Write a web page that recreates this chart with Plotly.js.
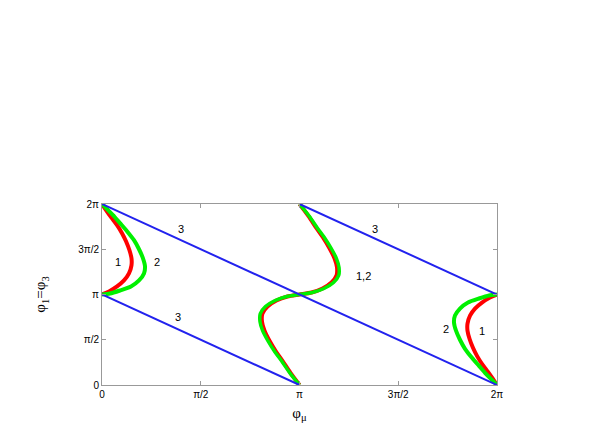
<!DOCTYPE html>
<html>
<head>
<meta charset="utf-8">
<script src="https://cdn.plot.ly/plotly-3.0.1.min.js"></script>
<style>
  html, body {margin: 0; padding: 0; background: #fff;}
  #chart {width: 599px; height: 436px;}
</style>
</head>
<body>
<div id="chart"></div>
<script>
const PI = Math.PI;

// tick values / labels
const TICK_VALS = [0, PI / 2, PI, 3 * PI / 2, 2 * PI];
const TICK_TEXT = ['0', 'π/2', 'π', '3π/2', '2π'];

// curve 1 (red), in radians
const red_left_x = [0, 0.064, 0.143, 0.239, 0.318, 0.382, 0.437, 0.469, 0.469,
                    0.429, 0.350, 0.239, 0.111, 0];
const red_left_y = [6.283, 6.073, 5.829, 5.550, 5.271, 4.991, 4.677, 4.398, 4.154,
                    3.874, 3.630, 3.421, 3.246, 3.1416];
const red_mid_x = [3.1416, 3.285, 3.412, 3.523, 3.619, 3.698, 3.738, 3.731, 3.651,
                   3.508, 3.333, 3.1416, 2.950, 2.775, 2.632, 2.552, 2.545, 2.585,
                   2.664, 2.760, 2.871, 2.998, 3.1416];
const red_mid_y = [6.283, 5.864, 5.445, 5.096, 4.747, 4.398, 4.084, 3.805, 3.560,
                   3.351, 3.211, 3.1416, 3.072, 2.932, 2.723, 2.478, 2.199, 1.885,
                   1.536, 1.187, 0.838, 0.419, 0];
const red_right_x = [6.283, 6.219, 6.140, 6.044, 5.965, 5.901, 5.846, 5.814, 5.814,
                     5.854, 5.933, 6.044, 6.172, 6.283];
const red_right_y = [0, 0.210, 0.454, 0.733, 1.012, 1.292, 1.606, 1.885, 2.129,
                     2.409, 2.653, 2.862, 3.037, 3.1416];

// curve 2 (green)
const green_left_x = [0, 0.080, 0.175, 0.286, 0.398, 0.509, 0.589, 0.652, 0.684,
                      0.668, 0.589, 0.461, 0.286, 0.127, 0];
const green_left_y = [6.283, 6.108, 5.899, 5.620, 5.340, 5.026, 4.712, 4.398, 4.119,
                      3.874, 3.630, 3.421, 3.281, 3.176, 3.1416];
const green_mid_x = [3.1416, 3.295, 3.428, 3.545, 3.645, 3.728, 3.770, 3.765, 3.683,
                     3.530, 3.345, 3.1416, 2.938, 2.753, 2.600, 2.518, 2.513, 2.555,
                     2.638, 2.738, 2.855, 2.988, 3.1416];
const green_mid_y = [6.283, 5.864, 5.445, 5.096, 4.747, 4.398, 4.084, 3.805, 3.560,
                     3.351, 3.211, 3.1416, 3.072, 2.932, 2.723, 2.478, 2.199, 1.885,
                     1.536, 1.187, 0.838, 0.419, 0];
const green_right_x = [6.283, 6.203, 6.108, 5.997, 5.885, 5.774, 5.694, 5.631, 5.599,
                       5.615, 5.694, 5.822, 5.997, 6.156, 6.283];
const green_right_y = [0, 0.175, 0.384, 0.663, 0.943, 1.257, 1.571, 1.885, 2.164,
                       2.409, 2.653, 2.862, 3.002, 3.107, 3.1416];

// curve 3 (blue straight lines), segments split by null
const blue_x = [0, 2 * PI, null, PI, 2 * PI, null, 0, PI];
const blue_y = [2 * PI, 0, null, 2 * PI, PI, null, PI, 0];

// curve labels
const label_text = ['1', '2', '3', '3', '1,2', '3', '2', '1'];
const label_x = [0.254, 0.875, 1.257, 1.209, 4.167, 4.342, 5.471, 6.044];
const label_y = [4.258, 4.258, 5.41, 2.373, 3.80, 5.41, 1.955, 1.885];

const RED = '#ff0000';
const GREEN = '#00f000';
const BLUE = '#2222ee';

function curve(x, y, color, width) {
  return {
    x: x, y: y, mode: 'lines',
    line: {color: color, width: width, shape: 'spline', smoothing: 0.7},
    showlegend: false, hoverinfo: 'skip'
  };
}

const data = [
  curve(red_left_x, red_left_y, RED, 4),
  curve(green_left_x, green_left_y, GREEN, 4),
  curve(red_mid_x, red_mid_y, RED, 4),
  curve(green_mid_x, green_mid_y, GREEN, 3.5),
  curve(red_right_x, red_right_y, RED, 4),
  curve(green_right_x, green_right_y, GREEN, 4),
  {x: blue_x, y: blue_y, mode: 'lines', line: {color: BLUE, width: 2},
   showlegend: false, hoverinfo: 'skip'},
];

const AXIS_BASE = {
  range: [0, 2 * PI],
  tickvals: TICK_VALS,
  ticktext: TICK_TEXT,
  showgrid: false,
  zeroline: false,
  showline: true,
  linecolor: '#999999',
  linewidth: 1,
  mirror: 'ticks',
  ticks: 'inside',
  ticklen: 4,
  tickcolor: '#999999',
  tickfont: {family: 'Liberation Sans, Arial, sans-serif', size: 10, color: '#000'},
};

const TITLE_FONT = {family: 'Liberation Serif, Times New Roman, serif', size: 15, color: '#000'};

const layout = {
  width: 599,
  height: 436,
  margin: {l: 102, r: 102, t: 204, b: 51},
  paper_bgcolor: '#ffffff',
  plot_bgcolor: '#ffffff',
  xaxis: Object.assign({}, AXIS_BASE, {
    title: {text: 'φ<sub>μ</sub>', standoff: 8, font: TITLE_FONT},
  }),
  yaxis: Object.assign({}, AXIS_BASE, {
    title: {text: 'φ<sub>1</sub>=φ<sub>3</sub>', standoff: 28, font: TITLE_FONT},
  }),
  annotations: label_text.map((t, i) => ({
    x: label_x[i], y: label_y[i], text: t, showarrow: false,
    font: {family: 'Liberation Sans, Arial, sans-serif', size: 11, color: '#000'},
  })),
};

Plotly.newPlot('chart', data, layout, {displayModeBar: false, staticPlot: true});
</script>
</body>
</html>
